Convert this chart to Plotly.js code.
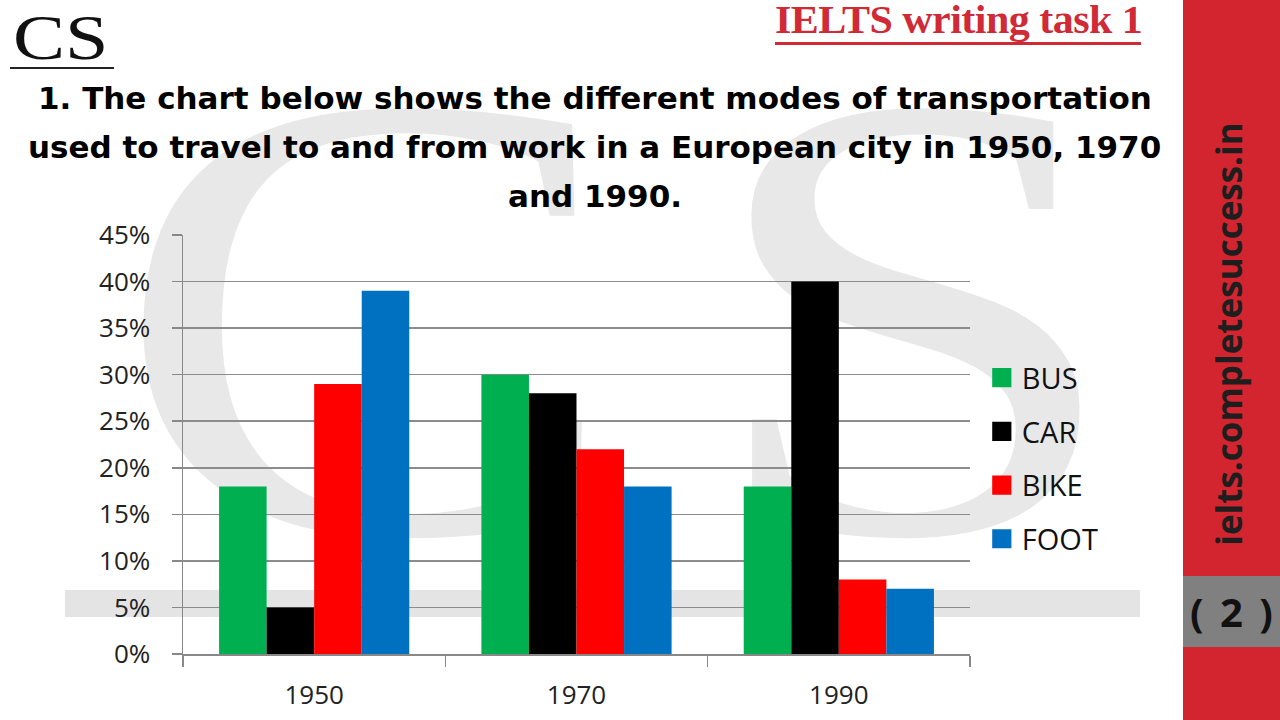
<!DOCTYPE html>
<html>
<head>
<meta charset="utf-8">
<script src="https://cdn.plot.ly/plotly-3.0.1.min.js"></script>
<style>
  html, body { margin: 0; padding: 0; background: #ffffff; }
  #page { position: relative; width: 1280px; height: 720px; overflow: hidden; background: #fff; }
  .wm { position: absolute; color: #e8e8e8; font-family: "Liberation Serif", serif; font-size: 640px; line-height: 1; transform-origin: 0 0; transform: scaleX(1.2); }
  #band { position: absolute; left: 65px; top: 590px; width: 1075px; height: 27px; background: #e4e4e4; }
  #chart { position: absolute; left: 0; top: 0; width: 1280px; height: 720px; }
  #logo { position: absolute; left: 13px; top: 6px; font-family: "Liberation Serif", serif; font-size: 64px; line-height: 1; color: #111; transform-origin: 0 0; transform: scaleX(1.22); }
  #logoline { position: absolute; left: 10px; top: 67px; width: 104px; height: 2px; background: #222; }
  #header { position: absolute; left: 775px; top: 0px; font-family: "Liberation Serif", serif; font-weight: bold; font-size: 40px; line-height: 1; color: #cf2a36; letter-spacing: -0.5px; transform-origin: 0 0; transform: scaleX(1.05); }
  #headline { position: absolute; left: 775px; top: 42px; width: 366px; height: 3px; background: #cf2a36; }
  #side { position: absolute; left: 1183px; top: 0; width: 97px; height: 720px; background: #d2252f; }
  #site { position: absolute; left: 1228px; top: 334px; transform: translate(-50%, -50%) rotate(-90deg); font-family: "Open Sans", sans-serif; font-weight: bold; font-size: 35px; color: #1e1e1e; white-space: nowrap; }
  #pagebox { position: absolute; left: 1183px; top: 576px; width: 97px; height: 71px; background: #808080; font-family: "Open Sans", sans-serif; font-weight: bold; font-size: 40px; color: #111; text-align: center; line-height: 71px; word-spacing: 6px; }
  .legendpoints path { transform: translate(20px, 0px) scale(1.6); }
</style>
</head>
<body>
<div id="page">
  <div class="wm" style="left:112px; top:-4px;">C</div>
  <div class="wm" style="left:700px; top:-4px;">S</div>
  <div id="band"></div>
  <div id="chart"></div>
  <div id="logo">CS</div>
  <div id="logoline"></div>
  <div id="header">IELTS writing task 1</div>
  <div id="headline"></div>
  <div id="side"></div>
  <div id="site">ielts.completesuccess.in</div>
  <div id="pagebox">( 2 )</div>
</div>
<script>
const years = ["1950", "1970", "1990"];
const modes = ["BUS", "CAR", "BIKE", "FOOT"];
const bus = [18, 30, 18];
const car = [5, 28, 40];
const bike = [29, 22, 8];
const foot = [39, 18, 7];
const modeColors = ["#00b050", "#000000", "#ff0000", "#0070c0"];
const titleLines = [
  "1. The chart below shows the different modes of transportation",
  "used to travel to and from work in a European city in 1950, 1970",
  "and 1990."
];
const yTicks = [0, 5, 10, 15, 20, 25, 30, 35, 40, 45];

const seriesValues = [bus, car, bike, foot];
const traces = modes.map((m, i) => ({
  type: "bar",
  name: m,
  x: years,
  y: seriesValues[i],
  legendgroup: m,
  marker: { color: modeColors[i], line: { width: 0 } },
  hoverinfo: "x+y+name"
}));

const titleShift = [137, 88, 39];
const annotations = titleLines.map((t, i) => ({
  text: t,
  xref: "paper", yref: "paper",
  x: 0.5235, y: 1,
  xanchor: "center", yanchor: "middle",
  yshift: titleShift[i],
  showarrow: false,
  font: { family: "DejaVu Sans", size: 31, color: "#000000", weight: "bold" }
}));

const layout = {
  width: 1280,
  height: 720,
  margin: { l: 183, r: 310, t: 235, b: 66, pad: 0 },
  paper_bgcolor: "rgba(0,0,0,0)",
  plot_bgcolor: "rgba(0,0,0,0)",
  barmode: "group",
  bargap: 0.275,
  bargroupgap: 0,
  font: { family: "Open Sans", color: "#222222" },
  showlegend: true,
  legend: {
    x: 1.015, xanchor: "left",
    y: 0.72, yanchor: "top",
    font: { family: "Open Sans", size: 29, color: "#111111" },
    tracegroupgap: 13,
    bgcolor: "rgba(0,0,0,0)"
  },
  xaxis: {
    type: "category",
    tickson: "boundaries",
    ticks: "outside",
    ticklen: 11,
    tickcolor: "#888888",
    tickwidth: 1.5,
    showline: true,
    linecolor: "#888888",
    linewidth: 1.5,
    showgrid: false,
    tickfont: { family: "Open Sans", size: 26, color: "#222222" },
    ticklabelstandoff: 17
  },
  yaxis: {
    range: [0, 45],
    tickvals: yTicks,
    ticktext: yTicks.map(v => v + "%"),
    ticks: "outside",
    ticklen: 10,
    tickcolor: "#888888",
    tickwidth: 1.5,
    showline: true,
    linecolor: "#888888",
    linewidth: 1.5,
    showgrid: true,
    gridcolor: "#8c8c8c",
    gridwidth: 1.5,
    zeroline: false,
    tickfont: { family: "Open Sans", size: 26, color: "#222222" },
    ticklabelstandoff: 16
  },
  annotations: annotations
};

Plotly.newPlot("chart", traces, layout, { displayModeBar: false, staticPlot: true });
</script>
</body>
</html>
